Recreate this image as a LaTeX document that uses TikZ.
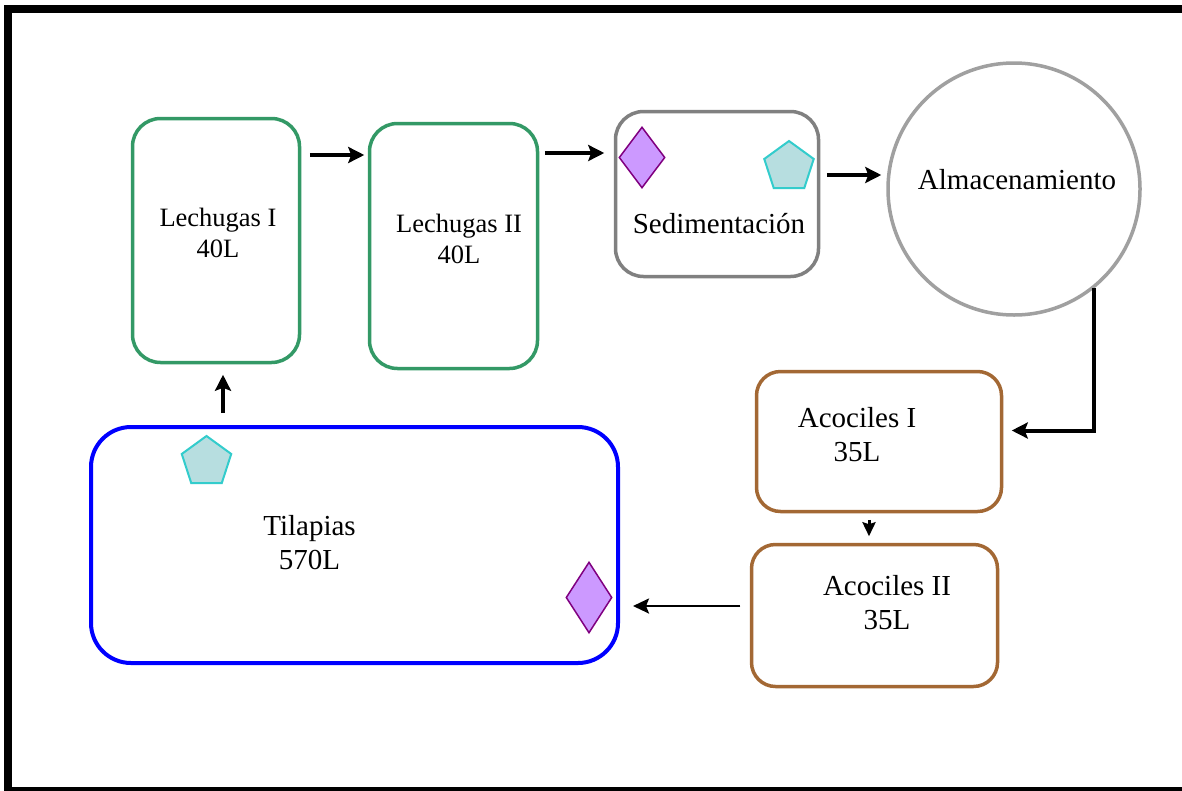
\documentclass[tikz,border=0pt]{standalone}
\usepackage{fontspec}
\setmainfont{Liberation Serif}
\usepackage{tikz}
\usetikzlibrary{arrows.meta,calc,positioning,shapes.geometric}
\definecolor{lettuce}{RGB}{51,153,102}
\definecolor{mud}{RGB}{128,128,128}
\definecolor{store}{RGB}{160,160,160}
\definecolor{crayfish}{RGB}{163,104,52}
\definecolor{lilac}{RGB}{204,153,255}
\definecolor{plum}{RGB}{128,0,128}
\definecolor{aqua}{RGB}{51,204,204}
\definecolor{paleaqua}{RGB}{183,222,224}

\begin{document}
\begin{tikzpicture}[x=1pt, y=-1pt,
  tank/.style={draw=#1, line width=3.5pt, rounded corners=28pt, inner sep=0pt},
  txt/.style={font=\fontsize{29}{34}\selectfont, align=center, inner sep=0pt},
  gem/.style={diamond, draw=plum, fill=lilac, line width=1.5pt, inner sep=0pt},
  penta/.style={regular polygon, regular polygon sides=5, draw=aqua, fill=paleaqua, line width=2pt, inner sep=0pt, minimum size=52pt},
  arr/.style={-{Stealth[length=16pt, width=16pt, inset=3pt]}, line width=4pt},
]
\clip (0,0) rectangle (1182,790);
\fill[white] (0,0) rectangle (1182,790);
\draw[line width=8pt] (1190,791) -- (8,791) -- (8,9) -- (1190,9);
% Tanks
\node[tank=lettuce, minimum width=167pt, minimum height=244pt] (lech1) at (216,240.5) {};
\node[tank=lettuce, minimum width=168pt, minimum height=245pt] (lech2) at (453.5,246) {};
\node[tank=mud, minimum width=203pt, minimum height=165pt] (sed) at (717,194) {};
\node[circle, draw=store, line width=3.5pt, minimum size=252pt, inner sep=0pt] (alm) at (1014,189) {};
\node[tank=crayfish, minimum width=245pt, minimum height=140pt, rounded corners=24pt] (aco1) at (879,441.5) {};
\node[tank=crayfish, minimum width=246pt, minimum height=142pt, rounded corners=24pt] (aco2) at (874.5,615.5) {};
\node[tank=blue, line width=4pt, minimum width=527pt, minimum height=236pt, rounded corners=40pt] (tila) at (354.5,545) {};
\node[txt, font=\fontsize{26.5}{31}\selectfont] (lech1txt) at (218,232.5) {Lechugas I\\40L};
\node[txt, font=\fontsize{26.5}{31}\selectfont] (lech2txt) at (459,238.5) {Lechugas II\\40L};
\node[txt] (sedtxt) at (719,224) {Sedimentación};
\node[txt] (almtxt) at (1017,180) {Almacenamiento};
\node[txt] (aco1txt) at (857,435) {Acociles I\\35L};
\node[txt] (aco2txt) at (887,603) {Acociles II\\35L};
\node[txt] (tilatxt) at (309.5,543) {Tilapias\\570L};
% Markers
\node[gem, minimum width=46pt, minimum height=61pt] (sedgem) at (642,157.5) {};
\node[penta] (sedpenta) at (789,167) {};
\node[penta] (tilapenta) at (206.5,462) {};
\node[gem, minimum width=46pt, minimum height=71pt] (tilagem) at (589,597.5) {};
% Flow
\draw[arr, shorten <=8.5pt, shorten >=3.5pt] ([yshift=85.5pt]lech1.east) -- ([yshift=85.5pt]lech1.east -| lech2.west);
\draw[arr, shorten <=5.5pt, shorten >=9.5pt] ([yshift=93pt]lech2.east) -- ([yshift=93pt]lech2.east -| sed.west);
\draw[arr, shorten <=6.5pt, shorten >=5pt] ([yshift=19pt]sed.east) -- ([yshift=19pt]sed.east -| alm.west);
\draw[arr, shorten >=8.5pt] (alm.-51) |- ([yshift=11pt]aco1.east);
\draw[arr, line width=3pt, -{Stealth[length=14pt, width=13pt, inset=2pt]}, shorten <=6.5pt, shorten >=6.5pt] ([xshift=-10pt]aco1.south) -- ([xshift=-10pt]aco1.south |- aco2.north);
\draw[arr, line width=2.5pt, -{Stealth[length=16pt, width=15pt, inset=3pt]}, shorten <=9.5pt, shorten >=13pt] ([yshift=9.5pt]aco2.west) -- ([yshift=9.5pt]aco2.west -| tila.east);
\draw[arr, shorten <=12pt, shorten >=10.5pt] ([xshift=7pt]lech1.south |- tila.north) -- ([xshift=7pt]lech1.south);
\end{tikzpicture}
\end{document}
